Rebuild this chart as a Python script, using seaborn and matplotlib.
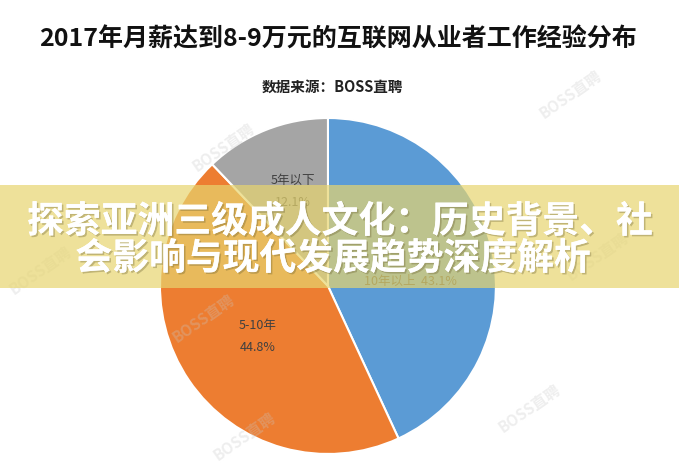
import matplotlib
matplotlib.use("Agg")
import matplotlib.pyplot as plt
import matplotlib.patheffects as pe
from matplotlib.patches import Rectangle
import seaborn as sns

# data (clockwise from 12 o'clock)
categories = ["10年以上", "5-10年", "5年以下"]
shares = [43.1, 44.8, 12.1]
colors = ["#5B9BD5", "#ED7D31", "#A5A5A5"]

title = "2017年月薪达到8-9万元的互联网从业者工作经验分布"
subtitle = "数据来源：BOSS直聘"
banner_lines = ["探索亚洲三级成人文化：历史背景、社", "会影响与现代发展趋势深度解析"]

sns.set_theme(style="white")
plt.rcParams['font.family'] = ['Noto Sans CJK SC', 'DejaVu Sans']

fig = plt.figure(figsize=(6.79, 4.75), dpi=100)
fig.patch.set_facecolor("white")

ax = fig.add_axes([0.2356, 0.0442, 0.4948, 0.7074])
wedges, _ = ax.pie(shares, colors=colors, startangle=90, counterclock=False,
                   radius=1, wedgeprops=dict(edgecolor="white", linewidth=1.5))
ax.set_xlim(-1, 1)
ax.set_ylim(-1, 1)
ax.set_aspect("equal")
ax.axis("off")

# data labels
lab_col = "#404040"
ax.text(0.49, 0.03, f"{categories[0]}  {shares[0]}%", ha="center", va="center",
        fontsize=9, color=lab_col)
ax.text(-0.42, -0.30, f"{categories[1]}\n{shares[1]}%", ha="center", va="center",
        fontsize=9, color=lab_col, linespacing=1.9)
ax.text(-0.21, 0.56, f"{categories[2]}\n{shares[2]}%", ha="center", va="center",
        fontsize=9, color=lab_col, linespacing=1.9)

fig.text(0.497, 0.916, title, ha="center", va="center", fontsize=18,
         fontweight="heavy", color="#111111")
fig.text(0.49, 0.817, subtitle, ha="center", va="center", fontsize=10.5,
         fontweight="bold", color="#222222")

# faint watermarks
for (wx, wy) in [(0.84, 0.80), (0.33, 0.69), (0.88, 0.46), (0.06, 0.43), (0.30, 0.33),
                 (0.78, 0.14), (0.36, 0.08)]:
    fig.text(wx, wy, "BOSS直聘", rotation=35, ha="center", va="center",
             fontsize=11, color="#c8c8c8", alpha=0.3, fontweight="bold")

# banner overlay
fig.patches.append(Rectangle((0, 0.3937), 1, 0.2168, transform=fig.transFigure,
                             facecolor="#E7D56F", alpha=0.7, edgecolor="none", zorder=5))
shadow = [pe.withSimplePatchShadow(offset=(1.2, -1.2), shadow_rgbFace="#6b6030", alpha=0.35),
          pe.Normal()]
fig.text(0.50, 1 - 222 / 475, banner_lines[0], ha="center", va="center", fontsize=26.5,
         fontweight="bold", color="white", zorder=6, path_effects=shadow)
fig.text(0.49, 1 - 259 / 475, banner_lines[1], ha="center", va="center", fontsize=26.5,
         fontweight="bold", color="white", zorder=6, path_effects=shadow)

fig.savefig("out.png", dpi=100)
